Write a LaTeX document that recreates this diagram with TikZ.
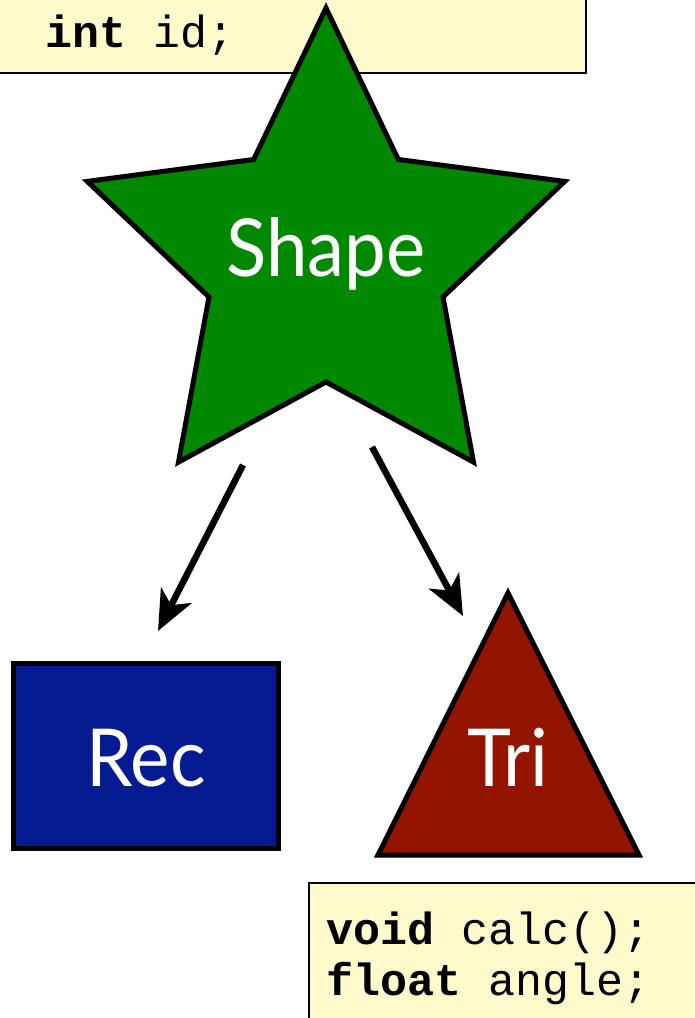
\documentclass[tikz,border=0pt]{standalone}
\usepackage{fontspec}
\setmainfont{Lato}[FakeStretch=0.93]
\newfontfamily\codefont{Liberation Mono}
\usetikzlibrary{arrows.meta}
\definecolor{starGreen}{RGB}{0,136,0}
\definecolor{recBlue}{RGB}{4,26,145}
\definecolor{triRed}{RGB}{147,21,0}
\definecolor{noteYellow}{RGB}{255,250,203}
\tikzset{
  shapeborder/.style={draw=black, line width=5pt, line join=miter},
  label/.style={text=white, inner sep=0pt, anchor=base, font=\fontsize{80}{90}\selectfont},
  note/.style={draw=black, line width=2.5pt, fill=noteYellow},
  code/.style={inner sep=0pt, anchor=base west, font=\codefont\fontsize{45}{52}\selectfont},
  inherit/.style={line width=6.5pt, -{Stealth[length=40pt,width=34pt,inset=11pt]}},
}
\begin{document}
\begin{tikzpicture}[x=1pt,y=-1pt]
\useasboundingbox (0,0) rectangle (695,1018);
\clip (0,0) rectangle (695,1018);
% top note
\draw[note] (-20,-20) rectangle (586,73);
\node[code] (topcode) at (45,47) {\textbf{int} id;};
% star
\draw[shapeborder, fill=starGreen]
  (326,8) -- (398.3,159.5) -- (564.7,181.4) -- (443,297) -- (473.5,462.1)
  -- (326,382) -- (178.5,462.1) -- (209,297) -- (87.3,181.4) -- (253.7,159.5) -- cycle;
\node[label] (shape) at (326,276) {Shape};
% rectangle
\draw[shapeborder, fill=recBlue] (13.5,663.5) rectangle (278.5,848.5);
\node[label] (rec) at (146,786) {Rec};
% triangle
\draw[shapeborder, fill=triRed] (508,593) -- (639,855) -- (378,855) -- cycle;
\node[label] (tri) at (508,786) {Tri};
% arrows
\coordinate (a1s) at (243,465);
\coordinate (a1e) at (158,631);
\coordinate (a2s) at (372,447);
\coordinate (a2e) at (463,616);
\draw[inherit] (a1s) -- (a1e);
\draw[inherit] (a2s) -- (a2e);
% bottom note
\draw[note] (309,883) rectangle (720,1040);
\node[code] (code1) at (326,944) {\textbf{void} calc();};
\node[code] (code2) at (326,995) {\textbf{float} angle;};
\end{tikzpicture}
\end{document}
